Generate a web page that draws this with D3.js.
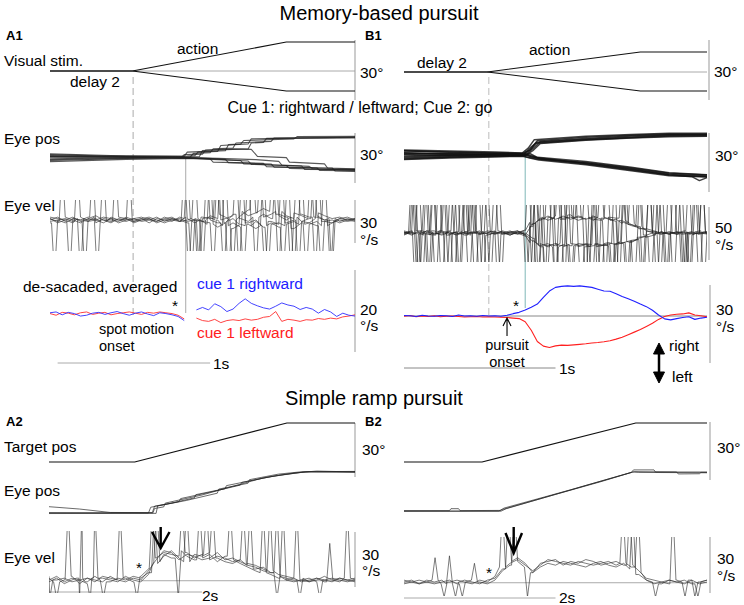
<!DOCTYPE html>
<html>
<head>
<meta charset="utf-8">
<script src="https://cdn.jsdelivr.net/npm/d3@7"></script>
<style>
body { margin: 0; background: #fff; }
svg text { font-family: "Liberation Sans", Arial, Helvetica, sans-serif; }
</style>
</head>
<body>
<div id="fig"></div>
<script>
// ---- data (time in s, position in deg, velocity in deg/s) ----

// visual stimulus / target position, breakpoints [t, deg]
var stimA1Up = [[0, 0], [0.54, 0], [1.55, 14.5], [2, 14.5]];
var stimA1Down = [[0, 0], [0.54, 0], [1.55, -10], [2, -10]];
var stimB1Up = [[0, 0], [0.55, 0], [1.56, 10], [2, 10]];
var stimB1Down = [[0, 0], [0.55, 0], [1.56, -9.5], [2, -9.5]];
var targetA2 = [[0, 0], [1.12, 0], [3.11, 21.7], [4, 21.7]];
var targetB2 = [[0, 0], [1.03, 0], [3.06, 20.2], [4, 20.2]];

// eye position traces, breakpoints [t, deg]
var eyePosA1 = [
    [[0, 1.5], [0.5, 1.0], [0.9, 1.2], [0.95, 1.4], [0.97, 3.5], [1.1, 4.0], [1.12, 7.5], [1.3, 8.5], [1.32, 11.5], [2, 12.5]],
    [[0, -0.5], [0.6, 0.3], [0.92, 0.5], [0.94, 2.8], [1.05, 3.2], [1.07, 5.5], [1.2, 6.0], [1.22, 9.0], [1.45, 10.0], [1.47, 12.0], [2, 12.3]],
    [[0, 2.5], [0.4, 1.5], [0.88, 1.0], [0.9, 3.5], [1.15, 4.4], [1.17, 8.0], [1.25, 8.3], [1.27, 10.5], [1.6, 11.5], [1.62, 12.8], [2, 13]],
    [[0, 0.8], [0.7, 0.6], [0.98, 0.9], [1.0, 4.5], [1.3, 5.5], [1.32, 9.0], [1.4, 9.4], [1.42, 11.8], [2, 12]],
    [[0, -1.5], [0.5, -0.3], [0.86, 0.2], [0.88, 2.0], [1.0, 2.3], [1.02, 4.8], [1.2, 5.5], [1.32, 5.2], [1.36, 1.0], [1.55, 0.2], [1.57, -2.5], [1.8, -3.5], [1.82, -6.0], [2, -6.5]],
    [[0, -1], [0.6, 0], [1.0, -0.3], [1.25, -1.5], [1.27, -3.5], [1.55, -4.5], [1.57, -6.2], [2, -7.2]],
    [[0, 2], [0.5, 0.8], [0.95, 0.2], [1.15, -0.8], [1.17, -2.8], [1.45, -3.6], [1.47, -5.5], [1.75, -6.0], [1.77, -7.5], [2, -7.6]],
    [[0, -2.2], [0.5, -0.8], [0.9, -0.2], [1.3, -1.8], [1.32, -3.8], [1.65, -4.8], [1.67, -6.8], [2, -7.0]],
    [[0, 0.5], [0.8, 0.4], [1.05, -0.5], [1.07, -2.5], [1.4, -3.2], [1.42, -5.2], [1.85, -6.0], [1.87, -7.8], [2, -8]],
    [[0, 1.0], [0.7, 0.5], [1.1, -0.2], [1.35, -1.0], [1.5, -2.0], [1.52, -4.2], [1.7, -5.0], [1.72, -6.3], [2, -6.8]]
];
var eyePosB1 = [
    [[0, 2.0], [0.25, 1.6], [0.5, 1.2], [0.78, 0.8], [0.83, 2.5], [0.88, 7.2], [1.2, 9.0], [1.5, 10.0], [1.75, 10.6], [2, 10.5]],
    [[0, 0.5], [0.3, 0.8], [0.6, 0.2], [0.79, 0.3], [0.84, 3.0], [0.87, 6.0], [1.2, 7.8], [1.5, 8.8], [1.75, 9.6], [2, 9.8]],
    [[0, -1.0], [0.3, -0.5], [0.6, -0.2], [0.8, 0.0], [0.83, 1.8], [0.9, 6.8], [1.2, 8.4], [1.5, 9.6], [1.75, 10.3], [2, 10.4]],
    [[0, 2.6], [0.3, 2.0], [0.6, 1.5], [0.78, 1.0], [0.82, 3.5], [0.86, 7.8], [1.2, 9.5], [1.5, 10.4], [1.75, 11.0], [2, 11.0]],
    [[0, -2.0], [0.3, -1.2], [0.6, -0.6], [0.8, -0.3], [0.85, 2.2], [0.9, 5.8], [1.2, 7.5], [1.5, 8.6], [1.75, 9.3], [2, 9.5]],
    [[0, 1.0], [0.3, 0.2], [0.6, 0.6], [0.79, 0.4], [0.84, 4.2], [0.88, 6.5], [1.2, 8.0], [1.5, 9.2], [1.75, 10.0], [2, 10.1]],
    [[0, 1.2], [0.3, 0.6], [0.6, 0.3], [0.8, 0.2], [0.84, -0.8], [0.9, -1.8], [1.2, -4.0], [1.5, -7.0], [1.75, -9.6], [2, -10.6]],
    [[0, -1.5], [0.3, -1.0], [0.6, -0.5], [0.79, -0.3], [0.83, 0.8], [0.88, -1.2], [1.2, -3.3], [1.5, -6.2], [1.75, -9.0], [2, -10.0]],
    [[0, 2.2], [0.3, 1.4], [0.6, 1.0], [0.8, 0.7], [0.85, -0.5], [0.9, -2.2], [1.2, -4.6], [1.5, -7.6], [1.75, -10.2], [1.9, -11.0], [1.95, -13.0], [2, -11.5]],
    [[0, -0.5], [0.3, 0.0], [0.6, -0.3], [0.78, -0.5], [0.82, -1.2], [0.88, -2.0], [1.2, -3.8], [1.5, -6.6], [1.75, -9.2], [2, -10.2]],
    [[0, 0.3], [0.3, -0.4], [0.6, 0.4], [0.8, 0.1], [0.84, -1.0], [0.9, -1.5], [1.2, -4.3], [1.5, -7.3], [1.75, -10.0], [2, -11.2]],
    [[0, -2.3], [0.3, -1.5], [0.6, -1.0], [0.79, -0.6], [0.83, -1.5], [0.89, -2.5], [1.2, -5.0], [1.5, -8.0], [1.75, -10.5], [2, -11.0]]
];
var eyePosA2 = [
    [[0, 3.5], [0.4, 2.2], [0.8, 0.3], [1.35, 0.2], [1.38, 3.8], [1.6, 5.5], [1.9, 8.4], [1.92, 10.2], [2.3, 13.5], [2.32, 15.2], [2.7, 18.5], [3.0, 21], [3.35, 22.8], [4, 22.6]],
    [[0, 0.2], [1.3, 0], [1.33, 3.2], [1.7, 6.3], [1.72, 8.0], [2.1, 11.5], [2.5, 15.5], [2.52, 17.0], [2.9, 20.2], [3.3, 22.6], [3.5, 23.3], [4, 22.8]],
    [[0, -0.3], [1.4, -0.2], [1.42, 3.9], [1.8, 7.0], [2.2, 11.0], [2.22, 13.3], [2.6, 16.5], [2.62, 18.5], [3.0, 21.6], [3.3, 22.9], [4, 22.9]],
    [[0, 0], [1.36, 0.1], [1.38, 2.5], [1.5, 3.4], [1.52, 5.5], [2.0, 10.0], [2.4, 14.8], [2.8, 19.5], [3.2, 22.2], [3.4, 23.0], [4, 23.1]]
];
var eyePosB2 = [
    [[0, 0], [1.25, 0], [1.3, 0.8], [2.0, 8.6], [2.6, 15.2], [3.02, 20.2], [3.1, 20.0], [4, 19.8]],
    [[0, 0.2], [0.6, 0.2], [0.62, 1.2], [0.72, 1.2], [0.74, 0.2], [1.27, 0.3], [1.32, 1.5], [2.2, 11], [3.0, 20], [3.03, 21.3], [3.3, 21.3], [3.32, 20.2], [4, 20.2]],
    [[0, -0.2], [1.28, -0.1], [1.35, 1.2], [2.4, 13.2], [3.04, 20.4], [3.6, 20.2], [3.62, 19.2], [3.9, 19.3], [3.92, 20.0], [4, 20]]
];

// eye velocity, sampled every 0.05 s (memory) / 0.1 s (ramp)
var velA1 = [
    [1, -1, 2, 0, -2, 1, 3, 0, -1, 2, 1, -2, 0, 1, -1, 2, 0, -1, 1, -2, 0, 3, 1, -2, 4, 6, 3, 5, 2, 4, 6, 3, 1, 4, 2, 5, 3, 1, 2, 0, 1],
    [-2, 0, 1, -1, 2, -1, 0, 2, 1, -2, 0, 1, -1, 0, 2, -1, 1, 0, -2, 1, -1, -3, -5, -2, -6, -3, -4, -1, -5, -3, -2, -4, -6, -2, -3, -1, -4, -2, 0, -1, 0],
    [0, 2, -1, 1, 0, 2, -2, 1, 0, -1, 2, 0, 1, -2, 1, 0, -1, 2, 1, 0, 2, 1, 4, 2, 0, 3, 7, 5, 8, 6, 4, 2, 5, 3, 1, 2, 0, -1, 1, 2, 0],
    [2, 1, 0, -2, 1, 0, 1, -1, 2, 0, -1, 1, 2, 0, -1, 1, 2, -1, 0, 1, -1, -2, 0, -4, -2, -5, -3, -6, -4, -2, -5, -3, -1, -3, -2, -4, -1, -2, 1, 0, -1],
    [-1, 0, -2, 1, 0, -1, 2, 0, -2, 1, 0, -1, 1, 2, 0, -2, 0, 1, -1, 0, 1, 2, 0, 1, 3, 1, -1, 2, 4, 1, 3, 0, 2, -1, 1, 3, 0, 1, -1, 1, 0],
    [1, -2, 0, 2, -1, 1, 0, -2, 1, 0, 1, -1, 0, 1, -2, 0, 1, -1, 2, 0, -1, 0, -2, -1, 1, -3, -2, 0, -4, -1, -3, -2, 0, -1, -2, 1, -1, 0, -2, 0, 1]
];
// saccades [t, peak velocity]
var sacA1 = [
    [[0.08, 40], [0.43, 40], [0.88, 40], [1.0, -40], [1.12, 40], [1.24, -40], [1.38, 40], [1.5, -40], [1.62, 40], [1.74, -40]],
    [[0.03, -40], [0.18, 40], [0.93, -40], [1.05, 40], [1.17, -40], [1.3, 40], [1.43, -40], [1.56, 40], [1.68, -40], [1.8, 40]],
    [[0.13, -40], [0.28, 40], [0.9, 40], [0.97, -40], [1.09, 40], [1.2, -40], [1.33, 40], [1.46, 40], [1.58, -40], [1.71, 40], [1.84, -40]],
    [[0.2, -40], [0.35, 40], [0.95, 40], [1.07, -40], [1.15, 40], [1.27, -40], [1.4, 40], [1.53, -40], [1.65, 40], [1.78, -40]],
    [[0.31, -40], [0.52, 40], [0.98, -40], [1.1, 40], [1.22, 40], [1.35, -40], [1.48, 40], [1.6, -40], [1.73, 40], [1.85, -40]],
    [[0.23, -40], [0.91, -40], [1.03, 40], [1.14, -40], [1.26, 40], [1.41, -40], [1.52, 40], [1.63, -40], [1.76, 40]]
];
var velB1 = [
    [1, -2, 0, 2, -1, 1, 0, -2, 1, 2, -1, 0, 2, -1, 1, 0, 3, 8, 13, 15, 14, 16, 13, 15, 14, 12, 15, 13, 11, 10, 7, 5, 3, 1, -1, 0, 1, -1, 0, 2, 0],
    [-1, 1, 2, -1, 0, -2, 1, 0, -1, 1, 2, -1, 0, 1, -2, 1, 2, 10, 14, 13, 16, 14, 15, 12, 14, 16, 13, 12, 13, 9, 8, 6, 2, 0, 1, -1, 0, 2, -1, 0, 1],
    [0, 2, -1, 0, 1, 2, -1, 1, 0, -2, 0, 1, -1, 2, 0, -1, 1, 6, 12, 16, 13, 15, 17, 14, 13, 15, 14, 14, 12, 11, 9, 4, 4, 2, 0, 1, -1, 0, 1, -1, 0],
    [2, 0, 1, -1, -2, 0, 2, -1, 1, 0, -1, 2, 1, -1, 0, 2, -2, 9, 15, 12, 14, 13, 14, 16, 15, 13, 12, 15, 14, 12, 8, 6, 2, 1, 0, -1, 1, 0, -2, 1, 0],
    [-1, 0, 2, 1, -1, 0, -2, 1, 0, 1, -1, 0, 2, 1, -1, 0, -3, -7, -11, -12, -10, -13, -11, -12, -10, -11, -12, -10, -9, -10, -8, -6, -4, -2, 0, 1, -1, 0, 1, 0, -1],
    [1, -1, 0, -2, 1, 2, 0, -1, 2, 0, 1, -2, 0, -1, 1, 2, -2, -9, -13, -11, -12, -10, -12, -13, -11, -10, -11, -12, -10, -8, -9, -5, -3, -1, 1, 0, -1, 1, 0, -1, 0],
    [0, 1, -1, 2, 0, -1, 1, 0, -2, 1, 0, 2, -1, 0, 2, -1, 0, -5, -10, -13, -11, -12, -10, -11, -13, -12, -10, -9, -11, -9, -7, -6, -2, 0, -1, 1, 0, -1, 0, 1, 1],
    [-2, 0, 1, 0, 2, -1, 0, 1, -1, 0, 2, -1, 1, 0, -2, 1, -1, -8, -12, -10, -13, -11, -12, -10, -11, -13, -12, -11, -10, -9, -7, -4, -3, -1, 0, -1, 1, 0, -1, 0, 1]
];
var sacB1 = [
    [[0.097, 60], [0.28, -60], [0.45, 60], [0.62, -60], [0.82, 60], [0.93, -60], [1.0, -60], [1.2, 60], [1.3, 60], [1.42, -60], [1.62, 60], [1.75, 60], [1.85, -60], [1.98, -60]],
    [[0.06, 60], [0.14, 60], [0.33, -60], [0.4, 60], [0.49, 60], [0.85, -60], [0.95, 60], [1.02, 60], [1.22, -60], [1.34, 60], [1.46, 60], [1.58, -60], [1.67, -60], [1.78, 60], [1.88, 60]],
    [[0.075, -60], [0.196, 60], [0.27, 60], [0.37, -60], [0.46, 60], [0.55, 60], [0.81, -60], [0.87, 60], [1.06, -60], [1.15, 60], [1.28, -60], [1.4, -60], [1.5, 60], [1.74, -60], [1.84, -60], [1.92, 60]],
    [[0.07, 60], [0.12, -60], [0.23, 60], [0.33, 60], [0.43, -60], [0.53, 60], [0.625, 60], [0.89, -60], [1.01, 60], [1.09, 60], [1.2, -60], [1.33, -60], [1.44, 60], [1.55, 60], [1.69, -60], [1.78, -60], [1.88, -60], [1.97, 60]],
    [[0.09, -60], [0.17, -60], [0.26, 60], [0.36, -60], [0.47, -60], [0.6, 60], [0.83, -60], [0.91, 60], [1.03, -60], [1.11, -60], [1.26, 60], [1.39, 60], [1.47, -60], [1.57, -60], [1.68, 60], [1.83, 60], [1.93, 60]],
    [[0.15, 60], [0.21, -60], [0.31, 60], [0.41, 60], [0.52, -60], [0.64, -60], [0.85, 60], [0.94, -60], [1.05, 60], [1.13, 60], [1.24, -60], [1.37, -60], [1.45, 60], [1.63, -60], [1.73, -60], [1.89, -60], [1.97, 60]],
    [[0.1, -60], [0.19, 60], [0.35, 60], [0.44, 60], [0.5, -60], [0.57, -60], [0.88, -60], [0.98, 60], [1.08, 60], [1.17, -60], [1.3, -60], [1.48, -60], [1.56, 60], [1.66, 60], [1.81, 60], [1.95, -60]],
    [[0.05, 60], [0.16, -60], [0.25, -60], [0.3, -60], [0.38, 60], [0.55, -60], [0.87, 60], [1.0, -60], [1.1, -60], [1.25, 60], [1.38, -60], [1.52, -60], [1.62, 60], [1.7, 60], [1.86, -60]]
];
var velA2 = [
    [1, -1, 0, 2, -2, 1, 0, -1, 2, 0, 1, -1, 2, 6, 12, 15, 14, 13, 15, 12, 14, 11, 13, 12, 10, 11, 9, 8, 6, 5, 3, 2, 1, 0, -1, 1, 0, -1, 1, 0, 1],
    [-1, 1, -2, 0, 1, -1, 2, 0, -1, 1, 0, 2, 1, 4, 9, 13, 16, 12, 10, 14, 13, 15, 12, 10, 9, 11, 8, 6, 7, 4, 2, 1, 0, 1, -1, 0, 2, 0, -1, 1, 0],
    [0, 2, -1, 1, 0, -2, 1, 1, 0, -1, 2, 0, -1, 3, 10, 14, 12, 16, 13, 11, 12, 14, 10, 13, 11, 9, 7, 5, 4, 3, 1, 0, -1, 0, 1, -1, 0, 1, 0, -1, 0],
    [2, 0, 1, -1, 0, 1, -1, 2, 1, 0, -1, 1, 0, 5, 11, 16, 15, 11, 14, 13, 11, 12, 15, 11, 12, 10, 8, 7, 5, 4, 2, 0, 1, -1, 0, 1, -1, 0, 1, 0, -1]
];
var sacA2 = [
    [[0.1, -10], [0.25, 40], [0.93, 40], [1.15, -10], [1.35, 40], [1.74, 40], [2.06, 40], [2.54, 40], [2.89, 40], [3.24, 40]],
    [[0.4, -10], [0.43, 40], [0.71, -10], [1.38, 40], [1.8, 40], [2.14, 40], [2.63, 40], [2.98, 40], [3.28, -10], [3.9, 40]],
    [[0.54, -10], [0.6, 40], [1.41, 40], [1.69, -10], [1.97, 40], [2.37, 40], [2.8, 40], [3.06, 40], [3.54, -10]],
    [[0.01, -10], [2.98, -10], [3.67, 20]]
];
var velB2 = [
    [0, 1, -1, 0, 1, -1, 0, 1, 0, -1, 1, 0, 3, 8, 10, 12, 9, 6, 9, 12, 11, 10, 9, 11, 10, 9, 10, 11, 9, 10, 8, 5, 1, 0, -1, 1, 0, -1, 1, 0, 1],
    [1, 0, -1, 1, 0, 1, -1, 0, 1, 0, -1, 1, 2, 7, 11, 13, 10, 5, 10, 11, 12, 9, 11, 10, 12, 11, 9, 10, 11, 9, 9, 6, 2, 1, 0, -1, 1, 0, 1, -1, 0],
    [-1, 0, 1, 0, -1, 0, 1, -1, 0, 1, 0, -1, 1, 6, 9, 11, 8, 5, 8, 10, 9, 11, 10, 9, 8, 10, 11, 9, 8, 10, 7, 4, 1, -1, 0, 1, 0, 1, -1, 0, 1]
];
var sacB2 = [
    [[0.41, 13], [0.53, -8], [1.3, 40], [2.89, 40], [3.09, 40], [3.32, -8], [3.84, -8]],
    [[0.6, 14], [0.68, -8], [1.38, 40], [2.98, 40], [3.55, 40], [3.71, -8]],
    [[0.77, -8], [0.93, 10], [1.46, 40], [1.63, -8], [3.02, 40], [3.88, -8]]
];

// de-saccaded averages, every 0.04 s
var blueA1 = [0.3, 0.5, -0.2, 0.4, 0.1, -0.5, -0.3, 0.2, 0.4, -0.1, 0.3, 0.6, 0.1, -0.3, 0.2, 0.5, 0, -0.4, 0.3, 0.1, -0.2, -0.6, -1.6,
    null, 1.0,
    1.6, 1.0, 2.5, 1.8, 0.6, 1.2, 2.6, 3.7, 2.6, 2.0, 1.5, 1.2, 1.9, 2.7, 2.2, 1.9, 1.1, 1.6, 1.2, 0.2, 1.1, 0.5, -0.6, 0.2, -0.3, -0.5];
var redA1 = [0.1, -0.3, 0.4, 0.2, -0.2, 0.3, 0.5, -0.1, 0.2, 0.4, -0.2, 0.1, 0.3, 0.5, 0.2, -0.1, 0.4, 0.2, 0.5, 0.3, 0.1, -0.3, -1.2,
    null,
    -1.0, -1.6, -1.8, -1.3, -2.1, -1.6, -1.4, -1.6, -1.2, -1.5, -1.3, -0.8, -0.6, 0.6, -1.8, -1.3, -1.5, -1.8, -1.4, -1.5, -1.1, -1.3, -1.0, -1.2, -0.7, -0.5, -0.2];
var blueB1 = [0.2, 0.1, -0.2, 0.3, 0, -0.1, 0.2, 0.1, -0.2, 0.4, 0, 0.1, -0.1, 0.2, 0, 0.1, -0.1, 0.3, 0.9, 1.4,
    2.3, 3.4, 4.6, 7.2, 9.6, 11.0, 11.4, 11.6, 11.4, 11.6, 11.3, 11.0, 10.3, 9.6, 9.5, 8.6, 7.5, 6.6, 5.7, 4.6,
    3.6, 2.2, 0.4, -1.1, -1.5, -1.0, -0.6, -0.3, -1.3, -0.8, -0.5];
var redB1 = [-0.1, 0.2, -0.3, 0, -0.2, 0.1, -0.3, -0.1, 0, -0.2, -0.4, -0.3, -0.2, -0.4, -0.3, -0.4, -0.5, -0.6, -0.8, -1.0,
    -2.2, -5.5, -9.8, -11.6, -12.1, -11.5, -11.2, -11.3, -11.1, -10.9, -10.7, -10.4, -10.2, -9.9, -9.5, -8.9, -8.2, -7.2, -6.2, -5.2,
    -4.0, -2.8, -1.3, -0.2, 0.4, 0.7, 0.8, 1.2, 0.4, 0.1, -0.3];

// event times [s]
var eventsA1 = { delayEnd: 0.545, cue: 0.89 };
var eventsB1 = { delayEnd: 0.56, cue: 0.80, onset: 0.68 };

// ---- drawing ----
var svg = d3.select('#fig').append('svg').attr('width', 744).attr('height', 605);

var xA1 = d3.scaleLinear().domain([0, 2]).range([50, 355]);
var xB1 = d3.scaleLinear().domain([0, 2]).range([404, 707]);
var xA2 = d3.scaleLinear().domain([0, 4]).range([49, 355]);
var xB2 = d3.scaleLinear().domain([0, 4]).range([404, 707]);

// a row: zero line position and pixels per unit
function row(zero, k) {
    return d3.scaleLinear().domain([0, 1]).range([zero, zero - k]);
}

function lineGen(x, y) {
    return d3.line()
        .defined(function(d) { return d[1] !== null; })
        .x(function(d) { return x(d[0]); })
        .y(function(d) { return y(d[1]); });
}

function sampled(vals, step) {
    return vals.map(function(v, i) { return [i * step, v]; });
}

function withSaccades(vals, step, sacs, hw) {
    var near = function(t) {
        var i = Math.max(0, Math.min(vals.length - 1, Math.round(t / step)));
        return vals[i];
    };
    var pts = sampled(vals, step).filter(function(p) {
        return !sacs.some(function(s) { return Math.abs(p[0] - s[0]) < hw; });
    });
    sacs.forEach(function(s) {
        pts.push([Math.max(0, s[0] - hw), near(s[0] - hw)], [s[0], s[1]], [s[0] + hw, near(s[0] + hw)]);
    });
    pts.sort(function(a, b) { return a[0] - b[0]; });
    return pts;
}

function traces(g, data, x, y, color, w, op) {
    g.selectAll(null).data(data).enter().append('path')
        .attr('d', lineGen(x, y))
        .attr('fill', 'none')
        .attr('stroke', color)
        .attr('stroke-width', w)
        .attr('stroke-opacity', op)
        .attr('stroke-linejoin', 'round');
}

function clipped(id, x0, x1, y0, y1) {
    svg.append('clipPath').attr('id', id).append('rect')
        .attr('x', x0).attr('y', y0).attr('width', x1 - x0).attr('height', y1 - y0);
    return svg.append('g').attr('clip-path', 'url(#' + id + ')');
}

function vline(x, y0, y1, color, dash, w) {
    svg.append('line').attr('x1', x).attr('x2', x).attr('y1', y0).attr('y2', y1)
        .attr('stroke', color).attr('stroke-width', w || 1).attr('stroke-dasharray', dash || null);
}
function hline(x0, x1, y, color, w) {
    svg.append('line').attr('x1', x0).attr('x2', x1).attr('y1', y).attr('y2', y)
        .attr('stroke', color).attr('stroke-width', w || 1);
}

// rows
var yStimA1 = row(71, 2), yPosA1 = row(158, 1.667), yVelA1 = row(220, 1.43), yAvgA1 = row(314, 4.1);
var yStimB1 = row(72, 2), yPosB1 = row(155, 1.97), yVelB1 = row(233, 1.06), yAvgB1 = row(316, 2.6);
var yTgtA2 = row(462, 1.8), yPosA2 = row(513, 1.8), yVelA2 = row(580, 1.83);
var yTgtB2 = row(462, 1.93), yPosB2 = row(511, 1.93), yVelB2 = row(582, 1.87);

// event markers
vline(xA1(eventsA1.delayEnd), 77, 315, '#aaa', '7,4');
vline(xA1(eventsA1.cue), 157, 313, '#aaa');
vline(xB1(eventsB1.delayEnd), 77, 315, '#bbb', '7,4');
vline(xB1(eventsB1.cue), 150, 308, '#7fb7b7');

// zero lines
hline(xA1(eventsA1.delayEnd), xA1(2), yStimA1(0), '#aaa');
hline(xB1(0.55), xB1(2), yStimB1(0), '#aaa');
hline(xB1(0), xB1(2), yAvgB1(0), '#888');
hline(xA2(1.2), xA2(4), yVelA2(-0.4), '#aaa');
hline(xB2(0), xB2(4), yVelB2(-0.4), '#aaa');

// scale bars
[[355, 40, 100], [355, 133, 183], [355, 200, 243], [355, 270, 352],
 [709, 40, 100], [709, 133, 192], [709, 207, 260], [710, 285, 363],
 [355, 423, 477], [355, 532, 587], [710, 422, 480], [710, 537, 593]].forEach(function(b) {
    vline(b[0], b[1], b[2], '#999');
});
// time bars
hline(xA1(0.05), xA1(1.05), 363, '#aaa');
hline(xB1(0), xB1(1), 368, '#888');
hline(xA2(0), xA2(2), 592, '#aaa');
hline(xB2(0), xB2(2), 598, '#aaa');

// stimulus / target
var gS = svg.append('g');
traces(gS, [stimA1Up, stimA1Down], xA1, yStimA1, '#111', 1.1, 1);
traces(gS, [stimB1Up, stimB1Down], xB1, yStimB1, '#111', 1.1, 1);
traces(gS, [targetA2], xA2, yTgtA2, '#111', 1.1, 1);
traces(gS, [targetB2], xB2, yTgtB2, '#111', 1.1, 1);

// eye position
traces(svg.append('g'), eyePosA1, xA1, yPosA1, '#222', 1.1, 0.75);
traces(svg.append('g'), eyePosB1, xB1, yPosB1, '#111', 1.5, 0.8);
traces(svg.append('g'), eyePosA2, xA2, yPosA2, '#222', 0.9, 0.75);
traces(svg.append('g'), eyePosB2, xB2, yPosB2, '#222', 0.9, 0.75);

// eye velocity (clipped like the original plots)
var gVA1 = clipped('cA1', 50, 355, 200, 251);
traces(gVA1, velA1.map(function(v, i) { return withSaccades(v, 0.05, sacA1[i], 0.02); }), xA1, yVelA1, '#333', 0.8, 0.8);
var gVB1 = clipped('cB1', 404, 707, 205, 262);
traces(gVB1, velB1.map(function(v, i) { return withSaccades(v, 0.05, sacB1[i], 0.02); }), xB1, yVelB1, '#222', 0.8, 0.8);
var gVA2 = clipped('cA2', 49, 355, 531, 593);
traces(gVA2, velA2.map(function(v, i) { return withSaccades(v, 0.1, sacA2[i], 0.04); }), xA2, yVelA2, '#333', 0.8, 0.8);
var gVB2 = clipped('cB2', 404, 707, 537, 596);
traces(gVB2, velB2.map(function(v, i) { return withSaccades(v, 0.1, sacB2[i], 0.04); }), xB2, yVelB2, '#333', 0.8, 0.8);

// averages
var gAvg = svg.append('g');
traces(gAvg, [sampled(redA1, 0.04)], xA1, yAvgA1, '#ff3030', 1, 0.9);
traces(gAvg, [sampled(blueA1, 0.04)], xA1, yAvgA1, '#3030ff', 1, 0.9);
traces(gAvg, [sampled(redB1, 0.04)], xB1, yAvgB1, '#ff2020', 1.1, 1);
traces(gAvg, [sampled(blueB1, 0.04)], xB1, yAvgB1, '#2020ff', 1.1, 1);

// arrows
function path(d, w, fill) {
    svg.append('path').attr('d', d).attr('fill', fill || 'none').attr('stroke', '#000')
        .attr('stroke-width', w).attr('stroke-linejoin', 'miter');
}
path('M160.7,527 L160.7,547 M152,532 L160.7,548 L169.5,532', 2.4);
path('M513.7,527 L513.7,552 M505.5,533 L513.7,553 L522,533', 2.4);
var xo = xB1(eventsB1.onset);
path('M' + xo + ',336 L' + xo + ',319 M' + (xo - 4) + ',326 L' + xo + ',318 L' + (xo + 4) + ',326', 1.1);
path('M659,350 L659,376', 2.5);
path('M653.5,354 L659,343 L664.5,354 Z M653.5,372 L659,383 L664.5,372 Z', 1, '#000');

// text
var F = 15.5, F2 = 14.5;
var labels = [
    [379, 20, 'Memory-based pursuit', 20, 'middle'],
    [6, 40, 'A1', 13, 'start', 'bold'],
    [365, 40, 'B1', 13, 'start', 'bold'],
    [4, 66, 'Visual stim.', F],
    [177, 54, 'action', F],
    [70, 87, 'delay 2', F],
    [360, 78, '30°', F],
    [417, 68, 'delay 2', F],
    [529, 55, 'action', F],
    [714, 77, '30°', F],
    [360, 113, 'Cue 1: rightward / leftward; Cue 2: go', 16, 'middle'],
    [4, 144, 'Eye pos', F],
    [360, 160, '30°', F],
    [715, 161, '30°', F],
    [4, 211, 'Eye vel', F],
    [360, 228, '30', F],
    [360, 245, '°/s', F],
    [715, 233, '50', F],
    [715, 250, '°/s', F],
    [23, 292, 'de-sacaded, averaged', F],
    [172, 311, '*', F],
    [197, 289, 'cue 1 rightward', F, 'start', null, '#2020ff'],
    [197, 338, 'cue 1 leftward', F, 'start', null, '#ff2020'],
    [99, 334, 'spot motion', F2],
    [99, 351, 'onset', F2],
    [360, 315, '20', F],
    [360, 331, '°/s', F],
    [213, 369, '1s', F],
    [513, 311, '*', F],
    [507, 350, 'pursuit', F2, 'middle'],
    [507, 367, 'onset', F2, 'middle'],
    [559, 374, '1s', F],
    [716, 315, '30', F],
    [716, 332, '°/s', F],
    [669, 351, 'right', F],
    [672, 382, 'left', F],
    [374, 405, 'Simple ramp pursuit', 20, 'middle'],
    [6, 426, 'A2', 13, 'start', 'bold'],
    [365, 426, 'B2', 13, 'start', 'bold'],
    [4, 452, 'Target pos', F],
    [362, 455, '30°', F],
    [717, 453, '30°', F],
    [4, 496, 'Eye pos', F],
    [4, 563, 'Eye vel', F],
    [362, 560, '30', F],
    [362, 576, '°/s', F],
    [717, 564, '30', F],
    [717, 581, '°/s', F],
    [136, 573, '*', F],
    [486, 578, '*', F],
    [202, 601, '2s', F],
    [559, 603, '2s', F]
];
svg.selectAll('text.lbl').data(labels).enter().append('text')
    .attr('class', 'lbl')
    .attr('x', function(d) { return d[0]; })
    .attr('y', function(d) { return d[1]; })
    .attr('font-size', function(d) { return d[3]; })
    .attr('text-anchor', function(d) { return d[4] || 'start'; })
    .attr('font-weight', function(d) { return d[5] || 'normal'; })
    .attr('fill', function(d) { return d[6] || '#000'; })
    .text(function(d) { return d[2]; });
</script>
</body>
</html>
